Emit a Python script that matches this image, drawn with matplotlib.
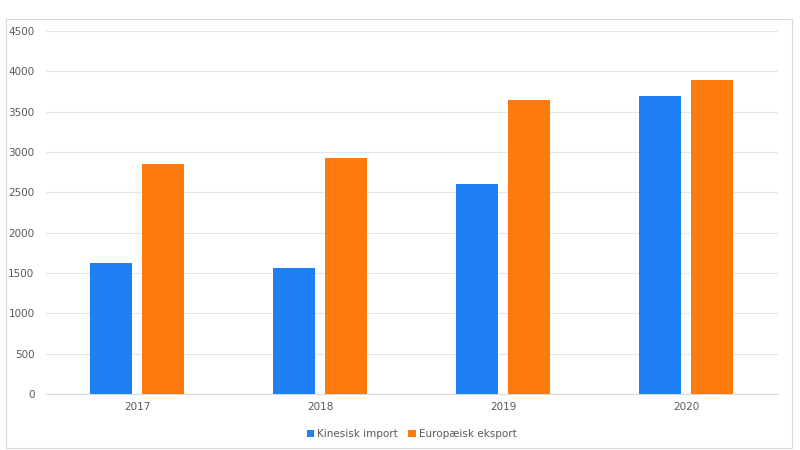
import numpy as np
import matplotlib.pyplot as plt
from matplotlib.patches import Rectangle

# Data
years = ['2017', '2018', '2019', '2020']
kinesisk_import = [1620, 1560, 2600, 3700]
europaeisk_eksport = [2850, 2920, 3650, 3890]

blue = '#1f7ff5'
orange = '#fd7a0d'
grey_text = '#595959'

fig = plt.figure(figsize=(8, 4.5), dpi=100)
fig.patch.set_facecolor('white')

# outer chart frame
fig.add_artist(Rectangle((6/800, 2/450), 786/800, 429/450, transform=fig.transFigure,
                         fill=False, edgecolor='#d9d9d9', linewidth=0.8))

ax = fig.add_axes([0.057, 0.1244, 0.915, 0.8067])

x = np.arange(len(years))
w = 0.23
ax.bar(x - 0.142, kinesisk_import, w, color=blue, label='Kinesisk import', zorder=3)
ax.bar(x + 0.142, europaeisk_eksport, w, color=orange, label='Europæisk eksport', zorder=3)

ax.set_xlim(-0.5, len(years) - 0.5)
ax.set_ylim(0, 4500)
ax.set_yticks(np.arange(0, 4501, 500))
ax.set_xticks(x)
ax.set_xticklabels(years)
ax.grid(axis='y', color='#e6e6e6', linewidth=0.8, zorder=0)
ax.tick_params(axis='both', length=0, labelsize=7.5, labelcolor=grey_text)
ax.tick_params(axis='y', pad=8)
ax.tick_params(axis='x', pad=6)
for s in ['top', 'right', 'left']:
    ax.spines[s].set_visible(False)
ax.spines['bottom'].set_color('#d9d9d9')

ax.legend(loc='upper center', bbox_to_anchor=(0.5, -0.07), ncol=2, frameon=False,
          fontsize=7.5, labelcolor=grey_text, handlelength=0.7, handleheight=0.7,
          handletextpad=0.3, columnspacing=1.0)

fig.savefig('out.png', dpi=100)
